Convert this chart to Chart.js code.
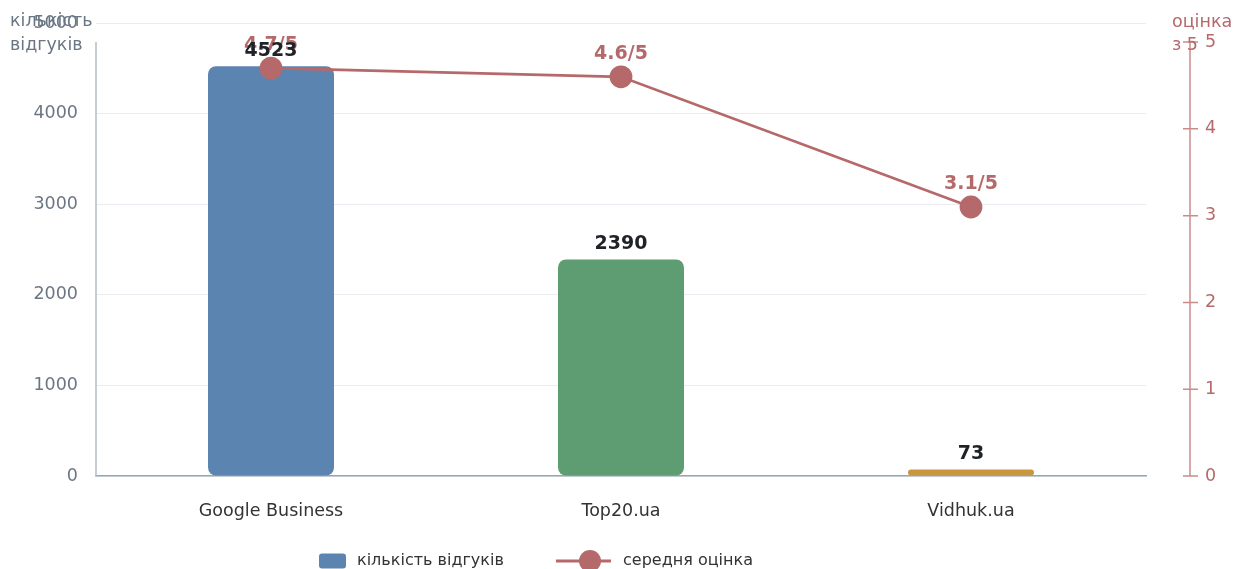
<!DOCTYPE html>
<html>
<head>
<meta charset="utf-8">
<style>
  body { margin: 0; overflow: hidden; background: #fff; }
  #wrap { width: 1235px; height: 569px; position: relative; }
</style>
</head>
<body>
<div id="wrap"><canvas id="chart"></canvas></div>
<script src="https://cdn.jsdelivr.net/npm/chart.js"></script>
<script>
  const categories = ['Google Business', 'Top20.ua', 'Vidhuk.ua'];
  const reviewCounts = [4523, 2390, 73];
  const avgRatings = [4.7, 4.6, 3.1];
  const ratingLabels = ['4.7/5', '4.6/5', '3.1/5'];
  const countTicks = [0, 1000, 2000, 3000, 4000, 5000];
  const ratingTicks = [0, 1, 2, 3, 4, 5];
  const seriesNames = ['кількість відгуків', 'середня оцінка'];

  const barColors = ['#5b84b1', '#5e9c72', '#c9973f'];
  const lineColor = '#b5696a';
  const FONT = 'DejaVu Sans';

  // axis lines, right-axis labels, value labels, titles and legend
  const extras = {
    id: 'extras',
    afterDatasetsDraw(chart) {
      const ctx = chart.ctx;
      const y = chart.scales.y, y1 = chart.scales.y1;
      const top = y1.getPixelForValue(5), bottom = y1.getPixelForValue(0);
      ctx.save();
      ctx.strokeStyle = '#b3bcc8';
      ctx.lineWidth = 1.5;
      ctx.beginPath();
      ctx.moveTo(y.right, top); ctx.lineTo(y.right, bottom);
      ctx.stroke();

      const ax = y1.left + 44;
      ctx.strokeStyle = '#c98c8c';
      ctx.beginPath();
      ctx.moveTo(ax, top); ctx.lineTo(ax, bottom);
      ratingTicks.forEach(v => {
        const py = y1.getPixelForValue(v);
        ctx.moveTo(ax - 7, py); ctx.lineTo(ax + 8, py);
      });
      ctx.stroke();
      ctx.fillStyle = lineColor;
      ctx.font = '17.5px "' + FONT + '"';
      ctx.textAlign = 'left';
      ctx.textBaseline = 'middle';
      ratingTicks.forEach(v => ctx.fillText(String(v), ax + 15, y1.getPixelForValue(v)));

      ctx.textAlign = 'center';
      ctx.font = 'bold 19px "' + FONT + '"';
      const lineMeta = chart.getDatasetMeta(1);
      ctx.fillStyle = lineColor;
      lineMeta.data.forEach((pt, i) => ctx.fillText(ratingLabels[i], pt.x, pt.y - 23));
      const barMeta = chart.getDatasetMeta(0);
      ctx.fillStyle = '#1f2328';
      barMeta.data.forEach((bar, i) => ctx.fillText(String(reviewCounts[i]), bar.x, bar.y - 15));

      ctx.textAlign = 'left';
      ctx.font = '17.5px "' + FONT + '"';
      ctx.fillStyle = '#6b7685';
      ctx.fillText('кількість', 10, 21);
      ctx.fillText('відгуків', 10, 45);
      ctx.fillStyle = lineColor;
      ctx.fillText('оцінка', 1172, 22);
      ctx.fillText('з 5', 1172, 45);

      // legend
      const ly = 561;
      ctx.fillStyle = barColors[0];
      ctx.beginPath();
      ctx.roundRect(319, ly - 7.5, 27, 15, 3);
      ctx.fill();
      ctx.strokeStyle = lineColor;
      ctx.lineWidth = 3;
      ctx.beginPath();
      ctx.moveTo(556, ly); ctx.lineTo(611, ly);
      ctx.stroke();
      ctx.fillStyle = lineColor;
      ctx.beginPath();
      ctx.arc(590, ly, 11, 0, Math.PI * 2);
      ctx.fill();
      ctx.fillStyle = '#333';
      ctx.font = '16px "' + FONT + '"';
      ctx.fillText(seriesNames[0], 357, ly);
      ctx.fillText(seriesNames[1], 623, ly);
      ctx.restore();
    }
  };

  new Chart(document.getElementById('chart'), {
    data: {
      labels: categories,
      datasets: [
        {
          type: 'bar',
          label: seriesNames[0],
          data: reviewCounts,
          backgroundColor: barColors,
          borderRadius: 8,
          borderSkipped: false,
          barPercentage: 0.36,
          categoryPercentage: 1,
          yAxisID: 'y',
          order: 1
        },
        {
          type: 'line',
          label: seriesNames[1],
          data: avgRatings,
          borderColor: lineColor,
          backgroundColor: lineColor,
          borderWidth: 2.8,
          pointRadius: 10,
          pointHoverRadius: 10,
          tension: 0,
          yAxisID: 'y1',
          order: 0
        }
      ]
    },
    options: {
      responsive: true,
      maintainAspectRatio: false,
      animation: false,
      layout: { padding: { top: 23, left: 0, right: 0, bottom: 22 } },
      plugins: {
        tooltip: { enabled: false },
        legend: { display: false }
      },
      scales: {
        x: {
          grid: { display: false, drawTicks: false },
          border: { color: '#9aa5b1', width: 1.5 },
          ticks: { color: '#333', font: { family: FONT, size: 17.5 }, padding: 25 }
        },
        y: {
          position: 'left',
          min: 0,
          max: countTicks[countTicks.length - 1],
          grid: { color: '#e9ecf0', drawTicks: true, tickLength: 15, tickColor: 'rgba(0,0,0,0)' },
          border: { display: false },
          ticks: { stepSize: 1000, color: '#6b7685', font: { family: FONT, size: 17.5 }, padding: 3, callback: v => String(v) },
          afterBuildTicks: s => { s.ticks = countTicks.map(v => ({ value: v })); },
          afterFit: s => { s.width = 96; }
        },
        y1: {
          position: 'right',
          min: 0,
          max: 5.22,
          grid: { display: false, drawTicks: false },
          border: { display: false },
          ticks: { display: false },
          afterBuildTicks: s => { s.ticks = ratingTicks.map(v => ({ value: v })); },
          afterFit: s => { s.width = 89; }
        }
      }
    },
    plugins: [extras]
  });
</script>
</body>
</html>
